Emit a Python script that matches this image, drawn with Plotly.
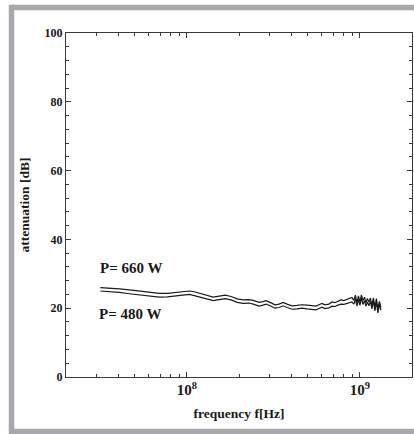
import plotly.graph_objects as go

# frequency in MHz
freq_mhz = [31.6, 35.6, 40.7, 46.5, 53.0, 60.6, 69.2, 77.0, 85.6, 95.2,
            103.1, 111.7, 120.9, 131.0, 141.8, 153.6, 166.3, 180.1, 195.1, 211.3,
            228.8, 244.5, 261.4, 275.6, 286.8, 302.5, 323.2, 340.9, 359.5, 379.2,
            405.2, 433.0, 462.7, 494.5, 528.4, 557.3, 580.0, 603.6, 628.1, 662.3,
            689.2, 717.2, 746.6, 776.9, 808.5, 841.4, 875.6, 899.2, 923.5, 941.9,
            960.9, 980.2, 1000, 1020, 1041, 1062, 1083, 1105, 1127, 1150,
            1173, 1197, 1221, 1245, 1270, 1296, 1322]

att_660 = [26.0, 25.9, 25.6, 25.3, 25.0, 24.6, 24.3, 24.3, 24.6, 24.9,
           25.0, 24.7, 24.2, 23.6, 23.2, 23.5, 23.8, 23.4, 22.7, 22.4,
           22.5, 22.2, 21.7, 21.9, 22.2, 21.7, 21.0, 21.2, 21.7, 21.2,
           20.7, 20.8, 21.0, 20.9, 20.7, 20.6, 21.0, 21.4, 21.0, 21.2,
           21.8, 21.6, 22.0, 22.4, 22.2, 22.5, 22.8, 23.1, 22.3, 23.8,
           21.5, 23.6, 21.8, 23.9, 22.2, 23.2, 21.6, 22.8, 21.8, 22.9,
           20.8, 23.0, 20.2, 22.8, 19.8, 22.0, 20.2]

att_480 = [25.0, 24.9, 24.6, 24.2, 23.8, 23.4, 23.2, 23.3, 23.6, 23.9,
           24.0, 23.6, 23.1, 22.6, 22.2, 22.5, 22.8, 22.4, 21.7, 21.4,
           21.5, 21.1, 20.6, 20.9, 21.2, 20.7, 20.0, 20.2, 20.7, 20.2,
           19.7, 19.8, 20.0, 19.8, 19.6, 19.5, 19.9, 20.3, 19.9, 20.1,
           20.6, 20.5, 20.9, 21.2, 21.1, 21.4, 21.6, 21.8, 21.2, 22.8,
           20.6, 22.6, 20.8, 22.9, 21.1, 22.2, 20.6, 21.8, 20.7, 22.0,
           19.8, 22.1, 19.2, 21.8, 18.6, 21.2, 19.4]

labels = ["P= 660 W", "P= 480 W"]

freq_hz = [f * 1e6 for f in freq_mhz]

FONT = "Liberation Serif"
INK = "#1a1a1a"
AXC = "#3a3a3a"

fig = go.Figure()
for ys in (att_660, att_480):
    fig.add_trace(go.Scatter(x=freq_hz, y=ys, mode="lines",
                             line=dict(color=INK, width=1.2),
                             showlegend=False, hoverinfo="skip"))

fig.update_layout(
    width=414, height=434,
    margin=dict(l=66, r=2, t=33, b=57),
    paper_bgcolor="white", plot_bgcolor="white",
    font=dict(family=FONT, color=INK),
    showlegend=False,
)

fig.update_xaxes(
    type="log", range=[7.30103, 9.30103],
    dtick=1, exponentformat="power", showexponent="all",
    tickprefix="<b>", ticksuffix="</b>",
    ticks="inside", ticklen=5, tickcolor=AXC, tickwidth=1,
    minor=dict(ticks="inside", ticklen=3, dtick="D1", tickcolor=AXC, showgrid=False),
    showline=True, linecolor=AXC, linewidth=1, mirror="allticks",
    showgrid=False, zeroline=False,
    tickfont=dict(family=FONT, size=12, color=INK),
    title=dict(text="<b>frequency f[Hz]</b>", font=dict(family=FONT, size=13.5, color=INK), standoff=11),
)

fig.update_yaxes(
    range=[0, 100], dtick=20, tick0=0,
    ticks="inside", ticklen=5, tickcolor=AXC, tickwidth=1,
    minor=dict(ticks="inside", ticklen=3, dtick=4, tickcolor=AXC, showgrid=False),
    showline=True, linecolor=AXC, linewidth=1, mirror="allticks",
    showgrid=False, zeroline=False,
    tickfont=dict(family=FONT, size=12, color=INK),
    tickprefix="<b>", ticksuffix="</b>",
    title=dict(text="<b>attenuation [dB]</b>", font=dict(family=FONT, size=13.5, color=INK), standoff=11),
)

fig.add_annotation(x=0.0925, y=0.317, xref="paper", yref="paper",
                   text="<b>" + labels[0] + "</b>", showarrow=False,
                   xanchor="left", yanchor="middle",
                   font=dict(family=FONT, size=15, color=INK))
fig.add_annotation(x=0.0895, y=0.183, xref="paper", yref="paper",
                   text="<b>" + labels[1] + "</b>", showarrow=False,
                   xanchor="left", yanchor="middle",
                   font=dict(family=FONT, size=15, color=INK))

# grey frame around the figure: three visible sides (top, left, bottom)
FRAME = dict(color="#a6a8ab", width=5.5)
fig.add_shape(type="line", xref="paper", yref="paper",
              x0=-0.1575, x1=1.2, y0=1.0741, y1=1.0741, line=FRAME, layer="below")
fig.add_shape(type="line", xref="paper", yref="paper",
              x0=-0.1575, x1=1.2, y0=-0.1584, y1=-0.1584, line=FRAME, layer="below")
fig.add_shape(type="line", xref="paper", yref="paper",
              x0=-0.1575, x1=-0.1575, y0=-0.1664, y1=1.0821, line=FRAME, layer="below")

fig.write_html("out.html", config={"displayModeBar": False},
               post_script=("document.body.style.margin='0';"
                            "document.body.style.overflow='hidden';"
                            "document.documentElement.style.overflow='hidden';"))
